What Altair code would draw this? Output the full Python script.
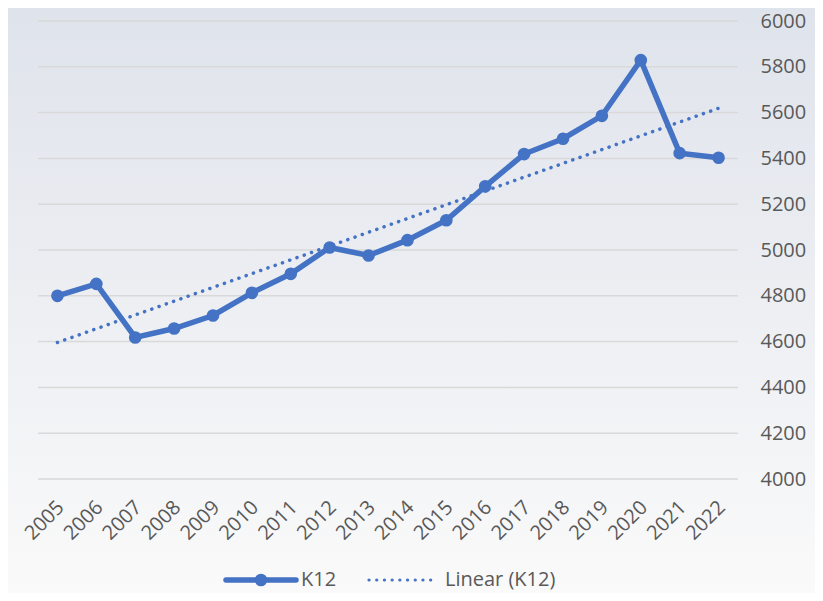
import altair as alt
import pandas as pd

# ---- data ----
years = [2005, 2006, 2007, 2008, 2009, 2010, 2011, 2012, 2013,
         2014, 2015, 2016, 2017, 2018, 2019, 2020, 2021, 2022]
k12 = [4800, 4852, 4618, 4657, 4714, 4813, 4896, 5011, 4976,
       5043, 5130, 5278, 5419, 5486, 5586, 5829, 5423, 5403]
y_ticks = [4000, 4200, 4400, 4600, 4800, 5000, 5200, 5400, 5600, 5800, 6000]
legend_labels = ["K12", "Linear (K12)"]

BLUE = "#4472C4"
TEXT = "#595959"
NUM_FONT = "Open Sans"

df = pd.DataFrame({"year": years, "value": k12})
grid_df = pd.DataFrame({"value": y_ticks})
one = pd.DataFrame({"k": [0]})

W, H = 700, 458
PAD = {"left": 30, "top": 13, "right": 77, "bottom": 114}

x_scale = alt.Scale(domain=[2004.5, 2022.5], nice=False, zero=False)
y_scale = alt.Scale(domain=[4000, 6000], nice=False, zero=False)

x_enc = alt.X(
    "year:Q", scale=x_scale,
    axis=alt.Axis(
        values=years, format="d", title=None, grid=False, domain=False,
        ticks=False, labelAngle=-45, labelAlign="right", labelBaseline="middle",
        labelPadding=25, labelOffset=3, labelFont=NUM_FONT, labelFontSize=20,
        labelColor=TEXT, labelOverlap=False, labelFlush=False, zindex=1,
    ),
)
y_enc = alt.Y(
    "value:Q", scale=y_scale,
    axis=alt.Axis(
        orient="right", values=y_ticks, format="d", title=None, domain=False,
        ticks=False, grid=False, labelPadding=22, labelFont=NUM_FONT,
        labelFontSize=20, labelColor=TEXT, labelBaseline="middle", zindex=1,
    ),
)

bg = alt.Chart(one).mark_rect(
    fill=alt.Gradient(
        gradient="linear",
        stops=[alt.GradientStop(color="#dfe3eb", offset=0),
               alt.GradientStop(color="#fafafa", offset=1)],
        x1=0, x2=0, y1=0, y2=1,
    )
).encode(
    x=alt.value(-PAD["left"]), x2=alt.value(W + PAD["right"]),
    y=alt.value(-PAD["top"]), y2=alt.value(H + PAD["bottom"]),
)

grid = alt.Chart(grid_df).mark_rule(color="#d9d9d9", strokeWidth=1.5).encode(
    y=y_enc,
    x=alt.value(0), x2=alt.value(W),
)

base = alt.Chart(df)
trend = base.transform_regression("year", "value").mark_line(
    color=BLUE, strokeWidth=3.5, strokeDash=[0.1, 7.6], strokeCap="round"
).encode(x=x_enc, y=y_enc)
line = base.mark_line(color=BLUE, strokeWidth=5.5).encode(x=x_enc, y=y_enc)
pts = base.mark_point(filled=True, size=160, color=BLUE, opacity=1).encode(x=x_enc, y=y_enc)

# ---- legend (bottom centre) ----
LY = 559
leg1_line = alt.Chart(one).mark_rule(color=BLUE, strokeWidth=5.5, strokeCap="round").encode(
    x=alt.value(188), x2=alt.value(258), y=alt.value(LY))
leg1_pt = alt.Chart(one).mark_point(filled=True, size=160, color=BLUE, opacity=1).encode(
    x=alt.value(223), y=alt.value(LY))
leg1_txt = alt.Chart(one).mark_text(
    align="left", baseline="middle", font=NUM_FONT, fontSize=20, color=TEXT
).encode(x=alt.value(263), y=alt.value(LY), text=alt.value(legend_labels[0]))
leg2_line = alt.Chart(one).mark_rule(
    color=BLUE, strokeWidth=3.2, strokeDash=[0.1, 7.6], strokeCap="round"
).encode(x=alt.value(331), x2=alt.value(400), y=alt.value(LY))
leg2_txt = alt.Chart(one).mark_text(
    align="left", baseline="middle", font=NUM_FONT, fontSize=20, color=TEXT
).encode(x=alt.value(407), y=alt.value(LY), text=alt.value(legend_labels[1]))

chart = alt.layer(
    bg, grid, trend, line, pts, leg1_line, leg1_pt, leg1_txt, leg2_line, leg2_txt
).properties(
    width=W, height=H,
    autosize=alt.AutoSizeParams(type="none"),
    padding=PAD,
    background="white",
).configure_view(stroke=None)

chart.save("out.html", embed_options={"renderer": "svg", "actions": False})
